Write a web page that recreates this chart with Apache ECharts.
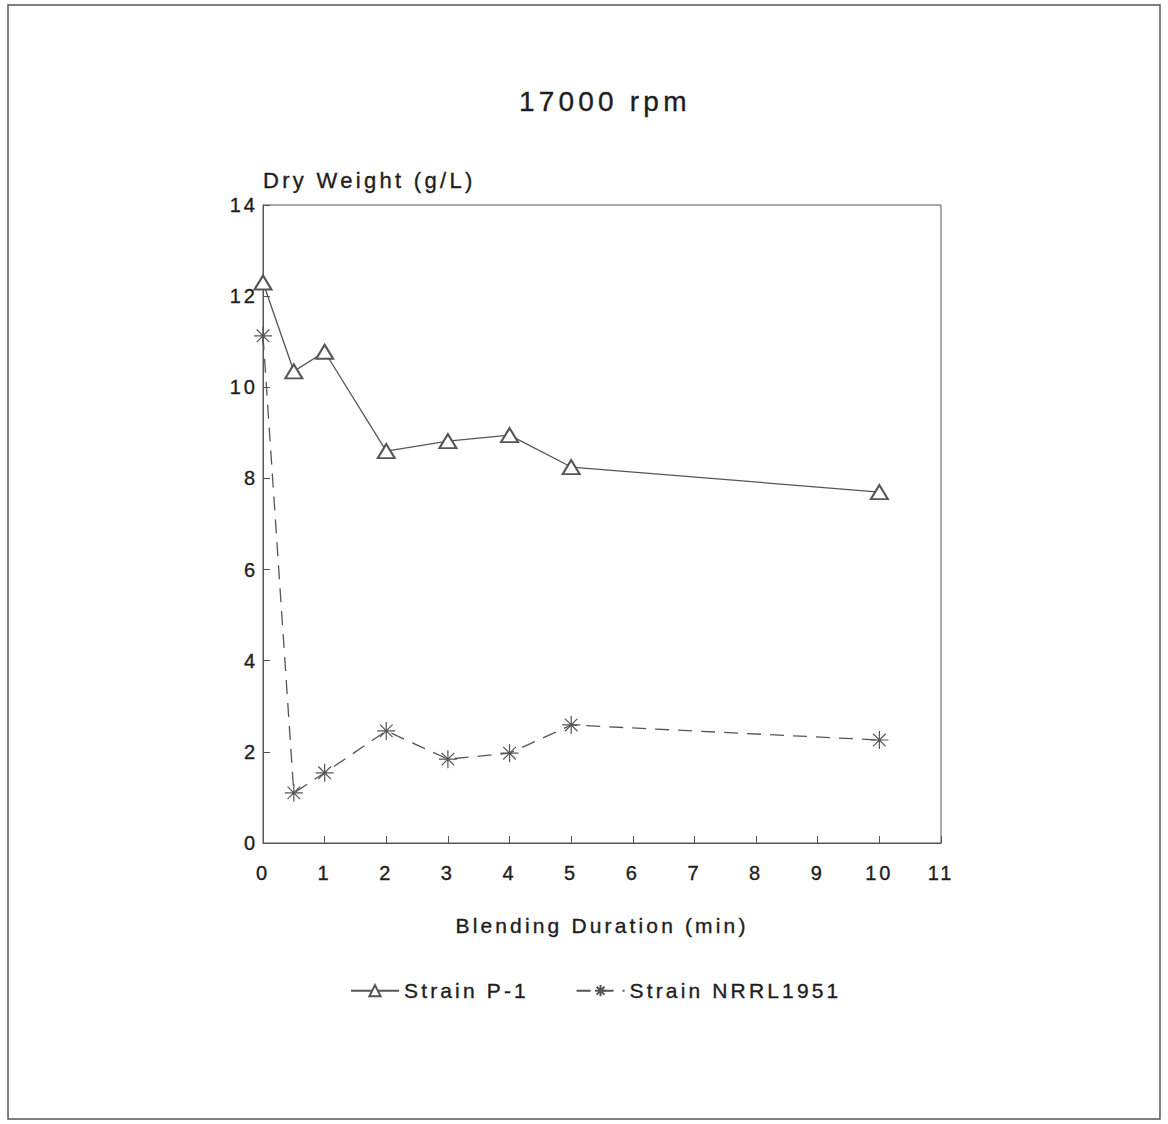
<!DOCTYPE html>
<html>
<head>
<meta charset="utf-8">
<script src="https://cdn.jsdelivr.net/npm/echarts@6/dist/echarts.min.js"></script>
<style>
  html, body { margin: 0; padding: 0; background: #fff; }
  #chart { width: 1168px; height: 1124px; }
  /* the old plotter font is widely tracked */
  #chart text { letter-spacing: 0.15em !important; }
</style>
</head>
<body>
<div id="chart"></div>
<script>
// blending duration (min)
const durations = [0, 0.5, 1, 2, 3, 4, 5, 10]
// dry weight (g/L)
const strainP1 = [12.3, 10.35, 10.78, 8.6, 8.82, 8.95, 8.25, 7.7]
const strainNRRL = [11.13, 1.1, 1.54, 2.46, 1.84, 1.97, 2.59, 2.26]
const seriesNames = ['Strain P-1', 'Strain NRRL1951']

const toPairs = (ys) => durations.map((x, i) => [x, ys[i]])
const ink = '#555'
const textInk = '#1e1e1e'
const font = '"Liberation Sans", Arial, sans-serif'
// heavier strokes on text, like the plotter pen
const pen = { textBorderColor: textInk, textBorderWidth: 0.35 }
// 8-arm asterisk
const asterisk = 'path://M10,0 L10,20 M0,10 L20,10 M3,3 L17,17 M3,17 L17,3'

const chart = echarts.init(document.getElementById('chart'), null, { renderer: 'svg' })
chart.setOption({
  backgroundColor: '#fff',
  animation: false,
  title: {
    text: '17000 rpm',
    left: 519,
    top: 87,
    padding: 0,
    textStyle: { fontFamily: font, fontSize: 28, fontWeight: 'normal', color: textInk, ...pen }
  },
  graphic: [{
    type: 'rect',
    shape: { x: 8, y: 5, width: 1152, height: 1114 },
    style: { fill: 'none', stroke: '#555', lineWidth: 1.5 }
  }],
  legend: {
    data: seriesNames,
    top: 975,
    left: 345,
    itemWidth: 48,
    itemHeight: 14,
    itemGap: 78,
    textStyle: { fontFamily: font, fontSize: 21, color: textInk, ...pen }
  },
  grid: {
    left: 263, right: 227, top: 205, bottom: 281,
    show: true, borderColor: ink, borderWidth: 1, backgroundColor: 'transparent'
  },
  xAxis: {
    type: 'value',
    min: 0, max: 11, interval: 1,
    name: 'Blending Duration (min)',
    nameLocation: 'middle',
    nameGap: 72,
    nameTextStyle: { fontFamily: font, fontSize: 21, color: textInk, ...pen },
    axisLine: { lineStyle: { color: ink } },
    axisTick: { inside: true, length: 7, lineStyle: { color: ink } },
    axisLabel: { fontFamily: font, fontSize: 20, color: textInk, margin: 20, ...pen },
    splitLine: { show: false }
  },
  yAxis: {
    type: 'value',
    min: 0, max: 14, interval: 2,
    name: 'Dry Weight (g/L)',
    nameLocation: 'end',
    nameGap: 14,
    nameTextStyle: { fontFamily: font, fontSize: 22, color: textInk, align: 'left', ...pen },
    axisLine: { lineStyle: { color: ink } },
    axisTick: { inside: true, length: 7, lineStyle: { color: ink } },
    axisLabel: { fontFamily: font, fontSize: 20, color: textInk, margin: 5, ...pen },
    splitLine: { show: false }
  },
  series: [
    {
      name: seriesNames[0],
      type: 'line',
      data: toPairs(strainP1),
      symbol: 'emptyTriangle',
      symbolSize: [17, 14],
      lineStyle: { color: ink, width: 1.3 },
      itemStyle: { color: ink, borderColor: ink, borderWidth: 1.3 }
    },
    {
      name: seriesNames[1],
      type: 'line',
      data: toPairs(strainNRRL),
      symbol: asterisk,
      symbolSize: 18,
      lineStyle: { color: ink, width: 1.3, type: [14, 9] },
      itemStyle: { color: ink, borderColor: ink, borderWidth: 1.2 }
    }
  ]
})
window.addEventListener('resize', () => chart.resize())
</script>
</body>
</html>
